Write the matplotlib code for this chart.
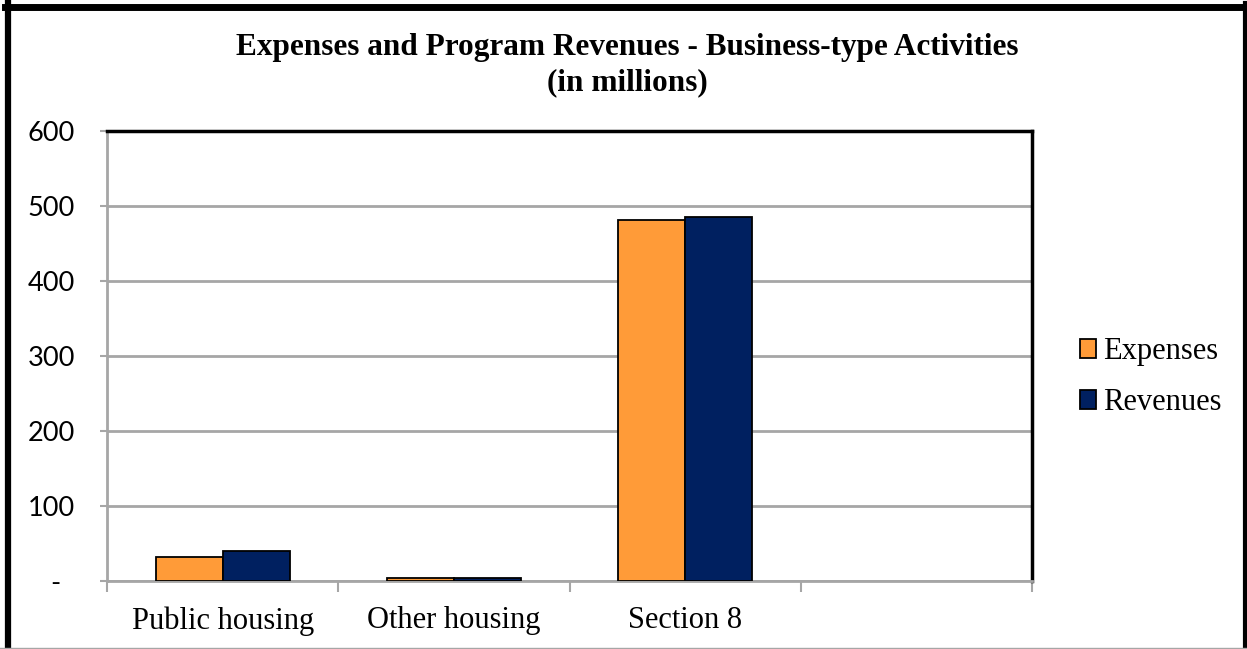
import numpy as np
import matplotlib.pyplot as plt
from matplotlib.lines import Line2D

# program totals, in millions
categories = ["Public housing", "Other housing", "Section 8", ""]
programs = ["Public housing", "Other housing", "Section 8"]
expenses = [32.4, 4.0, 481.7]
revenues = [40.8, 4.8, 484.8]
y_ticks = [0, 100, 200, 300, 400, 500, 600]
y_tick_labels = ["-  ", "100", "200", "300", "400", "500", "600"]

orange = "#FF9B38"
navy = "#002060"
grid_gray = "#A6A6A6"

fig = plt.figure(figsize=(12.47, 6.49), dpi=100)
ax = fig.add_axes([107 / 1247, 1 - 581.3 / 649, (1032 - 107) / 1247, (581.3 - 131) / 649])

x = np.arange(len(programs))
w = 0.29
ax.bar(x - w / 2, expenses, w, color=orange, edgecolor="black", linewidth=1.3,
       label="Expenses", zorder=3)
ax.bar(x + w / 2, revenues, w, color=navy, edgecolor="black", linewidth=1.3,
       label="Revenues", zorder=3)

ax.set_xlim(-0.5, len(categories) - 0.5)
ax.set_ylim(0, 600)

# y axis
ax.set_yticks(y_ticks)
ax.set_yticklabels(y_tick_labels, family="Lato", fontsize=19.5)
ax.tick_params(axis="y", length=5, width=1.5, color=grid_gray, pad=18)
ax.yaxis.grid(True, color=grid_gray, linewidth=2, zorder=0)

# x axis: labels centred, tick marks between categories
ax.set_xticks(np.arange(len(categories)))
ax.set_xticklabels(categories, family="Liberation Serif", fontsize=22)
ax.tick_params(axis="x", which="major", length=0, pad=18)
ax.set_xticks(np.arange(len(categories) + 1) - 0.5, minor=True)
ax.tick_params(axis="x", which="minor", length=8, width=1.5, color=grid_gray)

for side in ["left", "bottom"]:
    ax.spines[side].set_color(grid_gray)
    ax.spines[side].set_linewidth(2)
for side in ["top", "right"]:
    ax.spines[side].set_color("black")
    ax.spines[side].set_linewidth(2.5)

fig.text(627 / 1247, 1 - 48 / 649, "Expenses and Program Revenues - Business-type Activities",
         ha="center", va="center", family="Liberation Serif", fontweight="bold", fontsize=22.5)
fig.text(627 / 1247, 1 - 83 / 649, "(in millions)",
         ha="center", va="center", family="Liberation Serif", fontweight="bold", fontsize=22.5)

leg = ax.legend(loc="center left", bbox_to_anchor=(1.035, 0.453), frameon=False,
                prop={"family": "Liberation Serif", "size": 22},
                handlelength=0.55, handleheight=0.55, handletextpad=0.2, labelspacing=0.72,
                borderpad=0)

# outer frame of the chart
fig.add_artist(Line2D([8 / 1247, 8 / 1247], [0, 1 - 3 / 649], color="black", linewidth=4.5,
                      transform=fig.transFigure))
fig.add_artist(Line2D([5 / 1247, 1], [1 - 6.5 / 649, 1 - 6.5 / 649], color="black", linewidth=5,
                      transform=fig.transFigure))
fig.add_artist(Line2D([1245 / 1247, 1245 / 1247], [0, 1 - 3 / 649], color="black", linewidth=3,
                      transform=fig.transFigure))
fig.add_artist(Line2D([0, 1], [1 / 649, 1 / 649], color=grid_gray, linewidth=1,
                      transform=fig.transFigure))

fig.savefig("out.png", dpi=100)
